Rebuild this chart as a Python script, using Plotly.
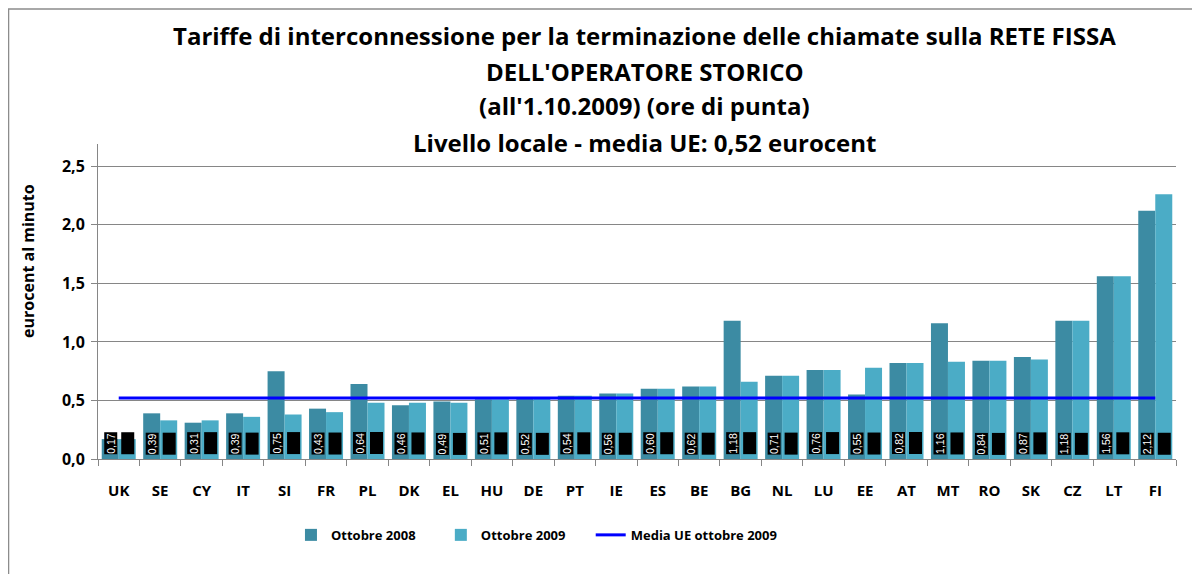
import plotly.graph_objects as go

countries = ["UK", "SE", "CY", "IT", "SI", "FR", "PL", "DK", "EL", "HU", "DE", "PT", "IE",
             "ES", "BE", "BG", "NL", "LU", "EE", "AT", "MT", "RO", "SK", "CZ", "LT", "FI"]
ott_2008 = [0.17, 0.39, 0.31, 0.39, 0.75, 0.43, 0.64, 0.46, 0.49, 0.51, 0.52, 0.54, 0.56,
            0.60, 0.62, 1.18, 0.71, 0.76, 0.55, 0.82, 1.16, 0.84, 0.87, 1.18, 1.56, 2.12]
ott_2009 = [0.17, 0.33, 0.33, 0.36, 0.38, 0.40, 0.48, 0.48, 0.48, 0.51, 0.53, 0.54, 0.56,
            0.60, 0.62, 0.66, 0.71, 0.76, 0.78, 0.82, 0.83, 0.84, 0.85, 1.18, 1.56, 2.26]
media_ue = 0.52

title_lines = [
    "Tariffe di interconnessione per la terminazione delle chiamate sulla RETE FISSA",
    "DELL'OPERATORE STORICO",
    "(all'1.10.2009) (ore di punta)",
    "Livello locale - media UE: 0,52 eurocent",
]
y_title = "eurocent al minuto"

C2008 = "#3C8BA3"
C2009 = "#4BACC6"
FONT = "Open Sans"
PAD = "\u00a0" * 6

fig = go.Figure()
fig.add_trace(go.Bar(name="Ottobre 2008" + PAD, x=countries, y=ott_2008, marker_color=C2008,
                     marker_line_width=0))
fig.add_trace(go.Bar(name="Ottobre 2009" + PAD, x=countries, y=ott_2009, marker_color=C2009,
                     marker_line_width=0))
fig.add_trace(go.Scatter(name="Media UE ottobre 2009", x=countries, y=[media_ue] * len(countries),
                         mode="lines", line=dict(color="#0000FF", width=3)))

def fmt(v):
    return f"{v:.2f}".replace(".", ",")

annotations = []
for c, v8, v9 in zip(countries, ott_2008, ott_2009):
    annotations.append(dict(x=c, y=0, xref="x", yref="y", yanchor="bottom", xanchor="center",
                            xshift=-8.5, yshift=4, text=fmt(v8), textangle=-90, showarrow=False,
                            font=dict(family="Liberation Sans", size=10.5, color="white"),
                            bgcolor="black", borderpad=0))
    annotations.append(dict(x=c, y=0, xref="x", yref="y", yanchor="bottom", xanchor="center",
                            xshift=8.5, yshift=4, text=fmt(v9), textangle=-90, showarrow=False,
                            font=dict(family="Liberation Sans", size=10.5, color="black"),
                            bgcolor="black", borderpad=0))

title_y = [1.346, 1.2286, 1.1238, 1.0032]
for t, yy in zip(title_lines, title_y):
    annotations.append(dict(x=0.5074, y=yy, xref="paper", yref="paper", xanchor="center",
                            yanchor="middle", text=t, showarrow=False,
                            font=dict(family=FONT, size=24, color="black", weight="bold")))

annotations.append(dict(x=-0.0649, y=0.629, xref="paper", yref="paper", xanchor="center",
                        yanchor="middle", text=y_title, textangle=-90, showarrow=False,
                        font=dict(family=FONT, size=16, color="black", weight="bold")))

fig.update_layout(
    width=1200, height=574,
    margin=dict(l=90, r=32, t=136, b=123),
    paper_bgcolor="white", plot_bgcolor="white",
    barmode="group", bargap=0.18, bargroupgap=0,
    separators=",.",
    font=dict(family=FONT, color="black"),
    annotations=annotations,
    showlegend=True,
    legend=dict(orientation="h", x=0.179, xanchor="left", y=-0.241, yanchor="middle",
                font=dict(family=FONT, size=13, color="black", weight="bold"),
                traceorder="normal", itemwidth=30),
    shapes=[dict(type="rect", xref="paper", yref="paper", x0=-0.083, x1=1.2, y0=-0.6, y1=1.4286,
                 line=dict(color="#8C8C8C", width=1.5), fillcolor="rgba(0,0,0,0)", layer="below")],
)
fig.update_yaxes(range=[0, 2.69], tickvals=[0, 0.5, 1.0, 1.5, 2.0, 2.5], tickformat=".1f",
                 showgrid=True, gridcolor="#868686", gridwidth=1,
                 showline=True, linecolor="#868686", linewidth=1,
                 ticks="outside", ticklen=6, tickcolor="#868686",
                 tickfont=dict(family=FONT, size=16, color="black", weight="bold"),
                 ticklabelstandoff=3,
                 zeroline=False)
fig.update_xaxes(showline=True, linecolor="#868686", linewidth=1,
                 ticks="outside", ticklen=6, tickcolor="#868686", tickson="boundaries",
                 tickfont=dict(family=FONT, size=15, color="black", weight="bold"),
                 ticklabelstandoff=18)

fig.write_html("out.html")
